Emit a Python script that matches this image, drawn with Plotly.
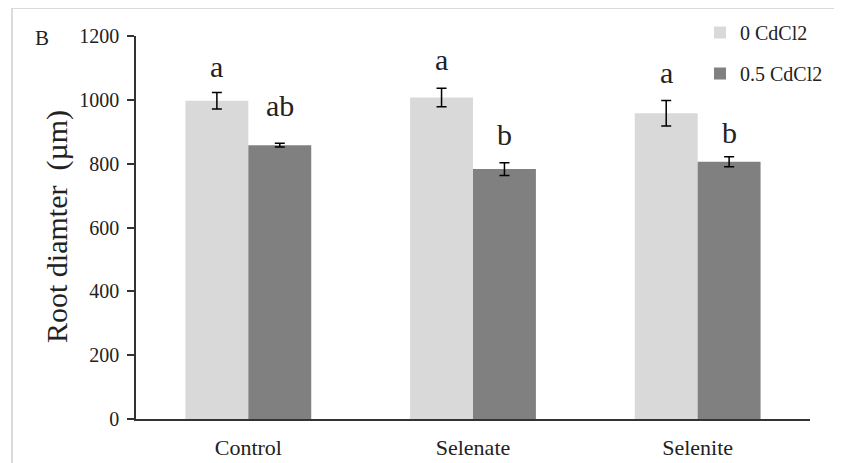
import plotly.graph_objects as go

categories = ["Control", "Selenate", "Selenite"]
series_names = ["0 CdCl2", "0.5 CdCl2"]
values_0 = [997, 1007, 958]
errors_0 = [26, 29, 40]
values_05 = [858, 783, 806]
errors_05 = [6, 20, 16]
letters_0 = ["a", "a", "a"]
letters_05 = ["ab", "b", "b"]
y_ticks = [0, 200, 400, 600, 800, 1000, 1200]

FONT = "Liberation Serif"
colors = ["#d9d9d9", "#808080"]

# page shows the figure offset by the 8px body margin
OFF = 8
L, T = 136 - OFF, 36 - OFF
W, H = 674, 383
R = 842 - L - W
B = 463 - T - H

def px(x):
    return (x - OFF - L) / W

def py(y):
    return (T + H - (y - OFF)) / H

fig = go.Figure()
for name, vals, errs, col in [(series_names[0], values_0, errors_0, colors[0]),
                              (series_names[1], values_05, errors_05, colors[1])]:
    fig.add_trace(go.Bar(
        x=categories, y=vals, name=name, legendgroup=name,
        marker=dict(color=col, line=dict(width=0)),
        error_y=dict(type="data", array=errs, color="black", thickness=1.5, width=5),
    ))

# significance letters
bar_px = W / 3 * 0.56 / 2
label_gap_0 = [7, 10, 9]
label_gap_05 = [19, 10, 6]
for i, c in enumerate(categories):
    fig.add_annotation(x=c, y=values_0[i] + errors_0[i], xref="x", yref="y",
                       text=letters_0[i], showarrow=False, yanchor="bottom",
                       xshift=-bar_px / 2, yshift=label_gap_0[i],
                       font=dict(family=FONT, size=30, color="#222"))
    fig.add_annotation(x=c, y=values_05[i] + errors_05[i], xref="x", yref="y",
                       text=letters_05[i], showarrow=False, yanchor="bottom",
                       xshift=bar_px / 2, yshift=label_gap_05[i],
                       font=dict(family=FONT, size=30, color="#222"))

fig.add_annotation(text="Root diamter  (µm)", textangle=-90, showarrow=False,
                   xref="paper", yref="paper", x=px(57), y=py(227),
                   xanchor="center", yanchor="middle",
                   font=dict(family=FONT, size=30, color="#222"))
fig.add_annotation(text="B", showarrow=False, xref="paper", yref="paper",
                   x=px(42), y=py(38), xanchor="center", yanchor="middle",
                   font=dict(family=FONT, size=21, color="#222"))

fig.add_shape(type="rect", xref="paper", yref="paper",
              x0=px(12), x1=1.3, y0=-0.3, y1=py(8),
              line=dict(color="#cfcfcf", width=1.5), fillcolor="rgba(0,0,0,0)", layer="below")

fig.update_layout(
    width=842, height=463,
    margin=dict(l=L, r=R, t=T, b=B, autoexpand=False),
    paper_bgcolor="white", plot_bgcolor="white",
    barmode="group", bargap=0.44, bargroupgap=0,
    font=dict(family=FONT, color="#222"),
    legend=dict(xref="container", yref="container", x=(700 - OFF) / 842,
                y=1 - (13 - OFF) / 463, xanchor="left", yanchor="top",
                traceorder="grouped", tracegroupgap=12, bgcolor="rgba(0,0,0,0)",
                font=dict(family=FONT, size=20, color="#222"), itemwidth=30),
    showlegend=True,
)
fig.update_xaxes(showline=True, linecolor="#333", linewidth=1.5, ticks="",
                 tickfont=dict(family=FONT, size=22, color="#222"), automargin=False,
                 showgrid=False, ticklabelstandoff=8)
fig.update_yaxes(range=[0, 1200], tickvals=y_ticks, showline=True, linecolor="#333",
                 linewidth=1.5, ticks="outside", ticklen=7, tickcolor="#333",
                 tickwidth=1.5, showgrid=False, zeroline=False, automargin=False,
                 tickfont=dict(family=FONT, size=20, color="#222"), ticklabelstandoff=4)

fig.write_html("out.html")
